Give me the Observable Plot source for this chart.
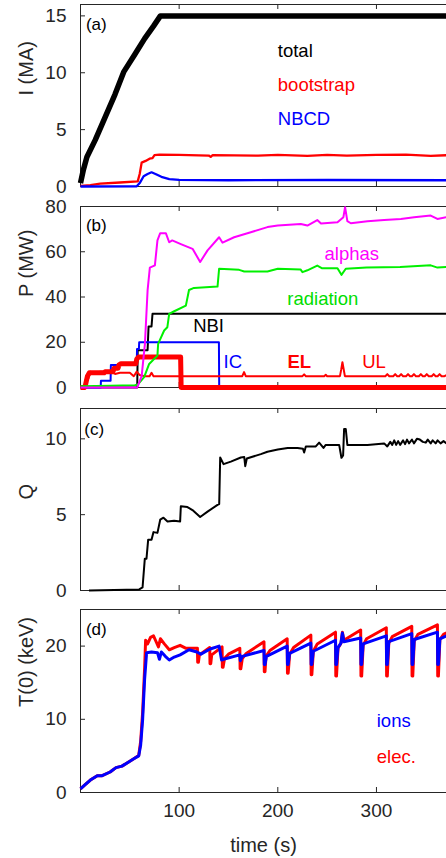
<!DOCTYPE html>
<html>
<head>
<meta charset="utf-8">
<script src="https://cdn.jsdelivr.net/npm/d3@7"></script>
<script src="https://cdn.jsdelivr.net/npm/@observablehq/plot@0.6"></script>
<style>
  html, body { margin: 0; padding: 0; background: #fff; overflow: hidden; }
  #chart > svg, #chart > figure { display: block; margin: 0; }
</style>
</head>
<body>
<div id="chart"></div>
<script>
// ---------- data (time in s) ----------
const xTicks = [100, 200, 300];

// (a) currents, MA
const currentTotal = [[0,0.3],[3,1.5],[6.5,2.6],[15,4.1],[25,6.1],[35,8.1],[44,10.1],[55,11.6],[65,13],[74,14.1],[81,15],[371,15]];
const currentBootstrap = [[0,0.05],[10,0.12],[20,0.25],[40,0.35],[58,0.45],[60,1.1],[62,2.1],[66,2.25],[70,2.45],[73,2.5],[75,2.75],[80,2.8],[100,2.78],[130,2.72],[132,2.6],[134,2.75],[180,2.72],[200,2.78],[230,2.7],[250,2.78],[270,2.72],[300,2.78],[330,2.8],[355,2.7],[371,2.75]];
const currentNBCD = [[0,0],[57,0.02],[60,0.3],[64,0.9],[68,1.1],[72,1.25],[76,1.1],[82,0.85],[90,0.65],[100,0.58],[150,0.55],[250,0.57],[371,0.55]];

// (b) powers, MW
const powerAlphas = [[0,0],[57.5,0],[62,5],[65.3,19.3],[68,42.9],[70.3,53],[75.4,54],[78,65],[80.8,68.2],[86.5,68.2],[89.9,64.2],[93,65],[101.7,63.4],[113.6,61.3],[121.3,55.5],[128.8,60.6],[140.5,66.4],[144,64],[155.7,66.4],[172.6,68.6],[189.5,70.9],[200,71.6],[223.3,72.3],[230,71.6],[240,74],[243.8,72.5],[260.5,73],[266.5,75.3],[268.2,79.7],[270.5,73.5],[274,72.6],[290.9,73.5],[307.8,74],[324.7,74.5],[338.2,75.2],[355,76],[361.8,74.5],[371,75.3]];
const powerRadiation = [[0,0.5],[30,0.8],[55,1],[57.8,1.2],[64.5,4.6],[69.6,10.4],[78,14.1],[78.7,19.3],[84.8,25.2],[88,26.6],[89.9,32.5],[95,33.7],[106.8,36.2],[110,43.1],[115,44],[138.9,44.6],[140.5,52.5],[160.8,52],[166,51.3],[189.5,51.3],[200,52.5],[223,52.2],[225,51],[230,51.8],[240,53.9],[245,52.7],[260.5,52.7],[264.5,49.8],[268.9,52.5],[290,53],[324,53.3],[355,54],[361.8,53],[371,53.3]];
const powerNBI = [[0,0],[57.5,0],[58,16.5],[68,16.5],[69,27],[72,27],[73,32.6],[371,32.6]];
const powerIC = [[0,0],[20.5,0],[20.7,3],[30.5,3],[30.8,10],[57,10],[57.3,17],[59.2,17],[59.5,20],[140.3,20],[140.6,0]];
const powerEL = [[0,0],[4,0],[5,1],[7,5],[9,6.5],[24,6.5],[25,7],[33,7],[34,8.5],[38,8.5],[39,10],[41,10.5],[56,10.5],[57,12.5],[59,13.5],[101.5,13.5],[102,0],[371,0]];
const powerUL = [[0,0],[4,0],[6,5],[8,4],[10,7],[15,6],[20,7],[30,7],[35,6],[40,6.5],[50,6.5],[54,5],[57,7],[60,5.5],[65,5],[70,5],[72,6.5],[74,5],[164,5],[165.8,6.8],[167.5,5],[225,5],[226.7,5.8],[228.5,5],[247,5],[248.6,5.6],[250,5],[263,5],[264.3,8],[265.5,11.2],[266.8,8],[268,5],[309,5],[311,5.9],[313,5],[317,5],[319,5.9],[321,5],[323,5],[325,5.9],[327,5],[330,5],[332,5.9],[334,5],[336,5],[338,5.9],[340,5],[343,5],[345,5.9],[347,5],[349,5],[351,5.9],[353,5],[356,5],[358,5.9],[360,5],[362,5],[364,5.9],[366,5],[369,5],[371,5.5]];

// (c) fusion gain Q
const gainQ = [[8.6,0],[59.5,0.07],[62.9,0.2],[65.2,2.1],[66.9,2.1],[68.6,3.35],[72,3.35],[74,3.85],[78,3.8],[80.8,4.67],[84.1,4.8],[88.2,4.55],[94.9,4.6],[101,4.55],[101.7,5.55],[108.4,5.5],[113.5,5.3],[121.3,4.85],[128.8,5.2],[138.9,5.65],[140.6,5.7],[141.6,8.77],[145,8.33],[152.4,8.5],[162.5,8.77],[166,8.8],[167,8.2],[168.6,8.7],[182.8,8.99],[189.5,9.15],[200,9.3],[210,9.4],[220,9.4],[225.5,9.35],[226.7,9.1],[228.4,9.5],[238.5,9.5],[241.9,9.75],[246.3,9.4],[248.6,9.6],[262.2,9.6],[264.5,8.75],[266.2,8.9],[267.2,10.65],[268.9,10.65],[270.5,9.6],[290.9,9.6],[307.8,9.7],[311,9.5],[314,9.8],[316,9.6],[318,9.9],[320,9.6],[322,9.85],[324,9.6],[327,9.9],[329,9.65],[331,9.95],[333,9.7],[336,9.95],[338,9.7],[341,10],[344,9.95],[347,9.8],[350,9.75],[352,9.95],[355,9.7],[357,9.9],[360,9.7],[362,9.9],[365,9.7],[368,9.85],[371,9.7]];

// (d) central temperatures, keV
const tempElec = [[0,0.5],[5,1.1],[10,1.7],[17,2.3],[22,2.3],[30,2.8],[36,3.4],[42,3.6],[48,4.1],[54,4.6],[59,5.05],[61,7],[63,11],[65,17],[66,20.8],[68,20.3],[71,21.2],[74,21.4],[76,20.8],[79,19.9],[81,21],[85,20.3],[90,19.5],[95,19.8],[101,20.1],[107,19.7],[118.5,19.7],[118.8,17.8],[119.5,17.8],[120.5,18.8],[131,19.8],[131.3,17.6],[132,17.6],[133,18.8],[143.5,19.9],[143.8,17.1],[144.5,17.1],[146,18.3],[150,18.9],[161.5,19.7],[161.8,16.9],[162.5,16.9],[164,18.3],[168,19],[186,20.6],[186.3,16.5],[187,16.5],[188,18.6],[192,19.4],[209.5,21],[209.8,16.3],[210.5,16.3],[212,18.9],[216,19.8],[233.5,21.5],[233.8,16.1],[234.5,16.1],[236,19.3],[240,20.3],[258.5,21.9],[258.8,15.9],[259.5,15.9],[261,19.7],[264,20.4],[265.5,21.9],[267,20.8],[284,22.2],[284.3,15.9],[285,15.9],[286.5,20.1],[290,21],[310,22.5],[310.3,15.9],[311,15.9],[312.5,20.4],[316,21.3],[335.8,22.7],[336.1,15.9],[336.8,15.9],[338.3,20.7],[342,21.6],[361.8,22.9],[362.1,15.9],[362.8,15.9],[364.3,20.9],[368,21.6],[371,21.8]];
const tempIons = [[0,0.5],[5,1.1],[10,1.7],[17,2.3],[22,2.3],[30,2.8],[36,3.4],[42,3.6],[48,4.1],[54,4.6],[59,5.0],[61,6.5],[63,10],[65,15.5],[67,19.1],[72,19.2],[78,19.1],[80,18.2],[82,19.2],[86,18.6],[90,18.1],[95,18.5],[101,18.8],[110,19.5],[118,19.2],[122,18.9],[130,19.5],[131.5,19.6],[140.5,20],[143,18.1],[145,18.2],[161.5,18.8],[162,18.0],[164,18.6],[186,19.4],[186.3,17.5],[187,17.5],[188.5,18.6],[209.5,20.0],[209.8,17.5],[210.5,17.5],[212,19.0],[233.5,20.4],[233.8,17.5],[234.5,17.5],[236,19.3],[258.5,20.8],[258.8,17.5],[259.5,17.5],[261,19.8],[264,20.4],[265.5,21.8],[267,20.6],[284,21.1],[284.3,17.5],[285,17.5],[286.5,20.3],[310,21.4],[310.3,17.5],[311,17.5],[312.5,20.6],[335.8,21.7],[336.1,17.5],[336.8,17.5],[338.3,20.9],[361.8,21.9],[362.1,17.5],[362.8,17.5],[364.3,21],[371,21.4]];

// ---------- layout helpers ----------
const W = 446, ML = 80;
const xDomain = [0, 371];
const FONT = "Liberation Sans, Arial, Helvetica, sans-serif";
const AX = "#262626";

function panel({yDomain, yTicks, mTop, mBottom, frameH, yLabel, labelDy = 0, marks, tag, tagPos, showX}) {
  const pxPerY = frameH / (yDomain[1] - yDomain[0]);
  const pxPerX = (W - ML) / (xDomain[1] - xDomain[0]);
  const tY = 5 / pxPerY, tX = 5 / pxPerX;
  const top = yDomain[1], bot = yDomain[0];
  const all = [
    Plot.ruleY([bot, top], {stroke: AX, strokeWidth: 1}),
    Plot.ruleX([0], {stroke: AX, strokeWidth: 1}),
    Plot.ruleX(xTicks, {y1: bot, y2: bot + tY, stroke: AX, strokeWidth: 1}),
    Plot.ruleX(xTicks, {y1: top, y2: top - tY, stroke: AX, strokeWidth: 1}),
    Plot.ruleY(yTicks, {x1: 0, x2: tX, stroke: AX, strokeWidth: 1}),
    Plot.axisY(yTicks, {tickSize: 0, tickPadding: 14, fontSize: 19, fill: AX, label: null}),
    ...(showX ? [Plot.axisX(xTicks, {tickSize: 0, tickPadding: 11, fontSize: 19, fill: AX, label: null}),
                 Plot.text(["time (s)"], {frameAnchor: "bottom", dy: 59, fontSize: 20, fill: AX})]
             : [Plot.axisX({ticks: [], label: null})]),
    Plot.text([yLabel], {frameAnchor: "left", rotate: -90, dx: -54, dy: labelDy, fontSize: 20, fill: AX}),
    Plot.text([tag], {x: tagPos[0], y: tagPos[1], textAnchor: "start", fontSize: 17, fill: "#000"}),
    ...marks
  ];
  return Plot.plot({
    width: W, height: mTop + frameH + mBottom,
    marginLeft: ML, marginRight: 0, marginTop: mTop, marginBottom: mBottom,
    style: {fontFamily: FONT, background: "white", overflow: "visible"},
    x: {domain: xDomain},
    y: {domain: yDomain},
    marks: all
  });
}

const ln = (data, stroke, w) => Plot.line(data, {x: d => d[0], y: d => d[1], stroke, strokeWidth: w, strokeLinejoin: "round", strokeLinecap: "butt"});
const lab = (s, x, y, fill, opts = {}) => Plot.text([s], {x, y, fill, fontSize: 18.5, ...opts});

const root = document.getElementById("chart");

root.append(panel({
  yDomain: [0, 16], yTicks: [0, 5, 10, 15], mTop: 4, frameH: 182, mBottom: 10,
  yLabel: "I (MA)", tag: "(a)", tagPos: [5.5, 14.2],
  marks: [
    ln(currentBootstrap, "#ff0000", 2.3),
    ln(currentNBCD, "#0000ff", 2.3),
    ln(currentTotal, "#000000", 5.5),
    lab("total", 200, 11.92, "#000", {textAnchor: "start"}),
    lab("bootstrap", 200, 8.9, "#ff0000", {textAnchor: "start"}),
    lab("NBCD", 200, 5.96, "#0000ff", {textAnchor: "start"})
  ]
}));

root.append(panel({
  yDomain: [0, 80], yTicks: [0, 20, 40, 60, 80], mTop: 10, frameH: 181, mBottom: 10,
  yLabel: "P (MW)", tag: "(b)", tagPos: [5.5, 71.6],
  marks: [
    ln(powerNBI, "#000000", 2),
    ln(powerIC, "#0000ff", 2),
    ln(powerEL, "#ff0000", 5),
    ln(powerUL, "#ff0000", 2),
    ln(powerRadiation, "#00f000", 2),
    ln(powerAlphas, "#ff00ff", 2),
    lab("alphas", 275, 59, "#ff00ff"),
    lab("radiation", 245.6, 39.2, "#00dd00"),
    lab("NBI", 129.8, 27, "#000"),
    lab("IC", 154.4, 11.2, "#0000ff"),
    lab("EL", 221.8, 11.2, "#ff0000", {fontWeight: "bold"}),
    lab("UL", 297.6, 11.2, "#ff0000")
  ]
}));

root.append(panel({
  yDomain: [0, 12], yTicks: [0, 5, 10], mTop: 11, frameH: 182, mBottom: 10,
  yLabel: "Q", tag: "(c)", tagPos: [3.8, 10.6],
  marks: [ ln(gainQ, "#000000", 2) ]
}));

root.append(panel({
  yDomain: [0, 25], yTicks: [0, 10, 20], mTop: 9, frameH: 183, mBottom: 66,
  yLabel: "T(0) (keV)", labelDy: 6, tag: "(d)", tagPos: [5.5, 22.2], showX: true,
  marks: [
    ln(tempElec, "#ff0000", 3),
    ln(tempIons, "#0000ff", 3),
    lab("ions", 300.3, 9.8, "#0000ff", {textAnchor: "start"}),
    lab("elec.", 300.3, 4.8, "#ff0000", {textAnchor: "start"})
  ]
}));
</script>
</body>
</html>
